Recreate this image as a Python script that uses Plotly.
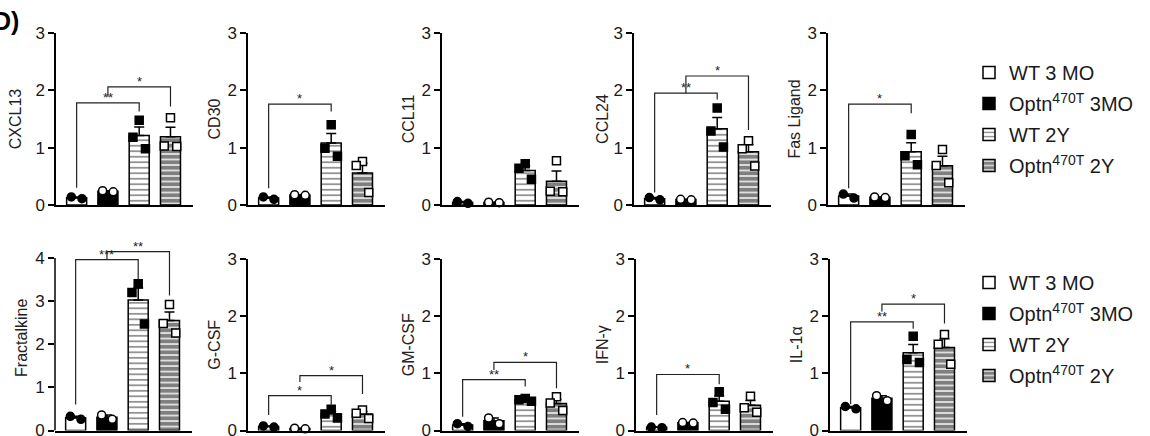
import numpy as np
import plotly.graph_objects as go

# ---------------- data ----------------
groups = ["WT 3 MO", "Optn<sup>470T</sup> 3MO", "WT 2Y", "Optn<sup>470T</sup> 2Y"]

cxcl13 = [[0.14, 0.11], [0.25, 0.23], [1.48, 1.18, 0.98], [1.52, 1.03, 1.02]]
cd30 = [[0.14, 0.10], [0.18, 0.17], [1.40, 0.99, 0.85], [0.76, 0.69, 0.22]]
ccl11 = [[0.06, 0.03], [0.05, 0.04], [0.72, 0.64, 0.45], [0.77, 0.24, 0.23]]
ccl24 = [[0.13, 0.09], [0.10, 0.09], [1.69, 1.29, 1.01], [1.12, 0.98, 0.68]]
fas_ligand = [[0.19, 0.12], [0.14, 0.13], [1.23, 0.86, 0.70], [0.97, 0.69, 0.39]]
fractalkine = [[0.33, 0.26], [0.36, 0.26], [3.40, 3.20, 2.47], [2.92, 2.48, 2.26]]
g_csf = [[0.08, 0.06], [0.04, 0.03], [0.37, 0.29, 0.22], [0.36, 0.30, 0.21]]
gm_csf = [[0.12, 0.07], [0.22, 0.12], [0.56, 0.54, 0.51], [0.59, 0.48, 0.35]]
ifn_g = [[0.06, 0.05], [0.14, 0.13], [0.68, 0.49, 0.37], [0.60, 0.40, 0.32]]
il_1a = [[0.42, 0.38], [0.61, 0.52], [1.65, 1.24, 1.19], [1.68, 1.51, 1.16]]

panel_titles = ["CXCL13", "CD30", "CCL11", "CCL24", "Fas Ligand",
                "Fractalkine", "G-CSF", "GM-CSF", "IFN-γ", "IL-1α"]
panel_data = [cxcl13, cd30, ccl11, ccl24, fas_ligand,
              fractalkine, g_csf, gm_csf, ifn_g, il_1a]
panel_ymax = [3, 3, 3, 3, 3, 4, 3, 3, 3, 3]

# significance brackets: (group a, group b, bar height, left leg end, right leg end, label)
brackets = [
    [(0, 2, 1.78, 0.30, 1.63, "**"), (1, 3, 2.06, 1.89, 1.72, "*")],
    [(0, 2, 1.76, 0.29, 1.63, "*")],
    [],
    [(0, 2, 1.95, 0.22, 1.84, "**"), (1, 3, 2.25, 1.95, 1.31, "*")],
    [(0, 2, 1.76, 0.29, 1.60, "*")],
    [(0, 2, 3.96, 0.60, 3.50, "***"), (1, 3, 4.15, 3.96, 3.13, "**")],
    [(0, 2, 0.61, 0.27, 0.45, "*"), (1, 3, 0.96, 0.85, 0.64, "*")],
    [(0, 2, 0.89, 0.24, 0.77, "**"), (1, 3, 1.19, 1.06, 0.74, "*")],
    [(0, 2, 0.98, 0.27, 0.81, "*")],
    [(0, 2, 1.90, 0.46, 1.78, "**"), (1, 3, 2.21, 2.08, 1.87, "*")],
]

# ---------------- style / layout ----------------
W, H = 1150, 436
FONT = "Liberation Sans, Arial, sans-serif"
TXT = "#1a1a1a"
axis_left_px = [56, 248, 442, 634, 828, 55, 248, 442, 636, 830]
title_standoff = [10, 3, 3, 1, 3, 3, 3, 3, 3, 3]
AXW = 137
row_zero_px = [205, 205, 205, 205, 205, 430.5, 430.5, 430.5, 430.5, 430.5]
row_top_px = [33, 33, 33, 33, 33, 258, 259, 259, 259, 259]
XR = [-0.66, 3.72]
BARW = 0.64
offsets = {2: [-0.17, 0.17], 3: [0.0, -0.2, 0.2]}

bar_fill = ["white", "black", "white", "white"]
bar_pattern = [None, None,
               dict(shape="-", fgcolor="black", bgcolor="white", size=5.5, solidity=0.28),
               dict(shape="-", fgcolor="black", bgcolor="white", size=5.5, solidity=0.75)]
pt_symbol = ["circle", "circle", "square", "square"]
pt_fill = ["black", "white", "black", "white"]

fig = go.Figure()
layout = dict(width=W, height=H, margin=dict(l=0, r=0, t=0, b=0),
              paper_bgcolor="white", plot_bgcolor="white",
              barmode="overlay", font=dict(family=FONT, color=TXT),
              showlegend=True)
shapes = []
annotations = []

for k in range(10):
    n = k + 1
    xa = "x" if n == 1 else f"x{n}"
    ya = "y" if n == 1 else f"y{n}"
    xkey = "xaxis" if n == 1 else f"xaxis{n}"
    ykey = "yaxis" if n == 1 else f"yaxis{n}"
    ymax = panel_ymax[k]
    ppu = (row_zero_px[k] - row_top_px[k]) / ymax
    top_extra = 0.3 if ymax == 4 else 0.0
    yr_top = ymax + top_extra
    dom_top_px = row_zero_px[k] - yr_top * ppu
    ydom = [1 - row_zero_px[k] / H, 1 - dom_top_px / H]
    xdom = [axis_left_px[k] / W, (axis_left_px[k] + AXW) / W]

    layout[xkey] = dict(domain=xdom, range=XR, anchor=ya, showline=True,
                        linecolor="black", linewidth=1.8, showticklabels=False,
                        ticks="", showgrid=False, zeroline=False, fixedrange=True)
    layout[ykey] = dict(domain=ydom, range=[0, yr_top], anchor=xa,
                        showline=(top_extra == 0), linecolor="black", linewidth=1.5,
                        tickvals=list(range(ymax + 1)), ticks="outside", ticklen=6,
                        tickwidth=1.5, tickcolor="black", showgrid=False, zeroline=False,
                        tickfont=dict(size=17, color=TXT), automargin=False,
                        ticklabeloverflow="allow",
                        title=dict(text=panel_titles[k], font=dict(size=16, color="#222"),
                                   standoff=title_standoff[k]),
                        fixedrange=True)
    if top_extra:
        shapes.append(dict(type="line", xref=f"{xa} domain", yref=ya, x0=0, x1=0,
                           y0=0, y1=ymax, line=dict(color="black", width=1.5)))

    for gi, pts in enumerate(panel_data[k]):
        pts = np.array(pts, dtype=float)
        mean = pts.mean()
        sem = pts.std(ddof=1) / np.sqrt(len(pts))
        leg = None
        show = False
        if k == 0:
            leg, show = "legend", True
        elif k == 5:
            leg, show = "legend2", True
        marker = dict(color=bar_fill[gi], line=dict(color="black", width=1.5))
        if bar_pattern[gi]:
            marker["pattern"] = bar_pattern[gi]
        bar = dict(x=[gi], y=[mean], width=BARW, marker=marker,
                   error_y=dict(type="data", symmetric=False, array=[sem], arrayminus=[0],
                                color="black", thickness=1.5, width=5),
                   xaxis=xa, yaxis=ya, name=groups[gi], showlegend=show,
                   legendgroup=f"r{k}g{gi}", hoverinfo="skip")
        if leg:
            bar["legend"] = leg
        fig.add_trace(go.Bar(**bar))
    for gi, pts in enumerate(panel_data[k]):
        offs = offsets[len(pts)]
        fig.add_trace(go.Scatter(
            x=[gi + o for o in offs], y=pts, mode="markers",
            marker=dict(symbol=pt_symbol[gi], size=8, color=pt_fill[gi],
                        line=dict(color="black", width=1.5)),
            cliponaxis=False, showlegend=False, xaxis=xa, yaxis=ya, hoverinfo="skip"))

    for (a, b, yl, ya_end, yb_end, lab) in brackets[k]:
        shapes.append(dict(type="path", xref=xa, yref=ya,
                           path=f"M{a},{ya_end} L{a},{yl} L{b},{yl} L{b},{yb_end}",
                           line=dict(color="#222", width=1.2)))
        annotations.append(dict(x=(a + b) / 2, y=yl, xref=xa, yref=ya, text=lab,
                                showarrow=False, yanchor="bottom", yshift=-4,
                                font=dict(size=13, color="#222")))

annotations.append(dict(x=-9 / W, y=1 - 21 / H, xref="paper", yref="paper",
                        text="<b>D)</b>", showarrow=False, xanchor="left", yanchor="middle",
                        font=dict(size=25, color="black")))

legend_common = dict(xanchor="left", yanchor="top", font=dict(size=20, color=TXT, family=FONT),
                     tracegroupgap=2, bgcolor="rgba(0,0,0,0)", borderwidth=0,
                     itemclick=False, itemdoubleclick=False)
layout["legend"] = dict(x=969 / W, y=1 - 53 / H, **legend_common)
layout["legend2"] = dict(x=969 / W, y=1 - 263 / H, **legend_common)
layout["shapes"] = shapes
layout["annotations"] = annotations

fig.update_layout(**layout)
fig.write_html("out.html", config={"displayModeBar": False, "staticPlot": False},
               post_script="document.body.style.margin='0px';")
